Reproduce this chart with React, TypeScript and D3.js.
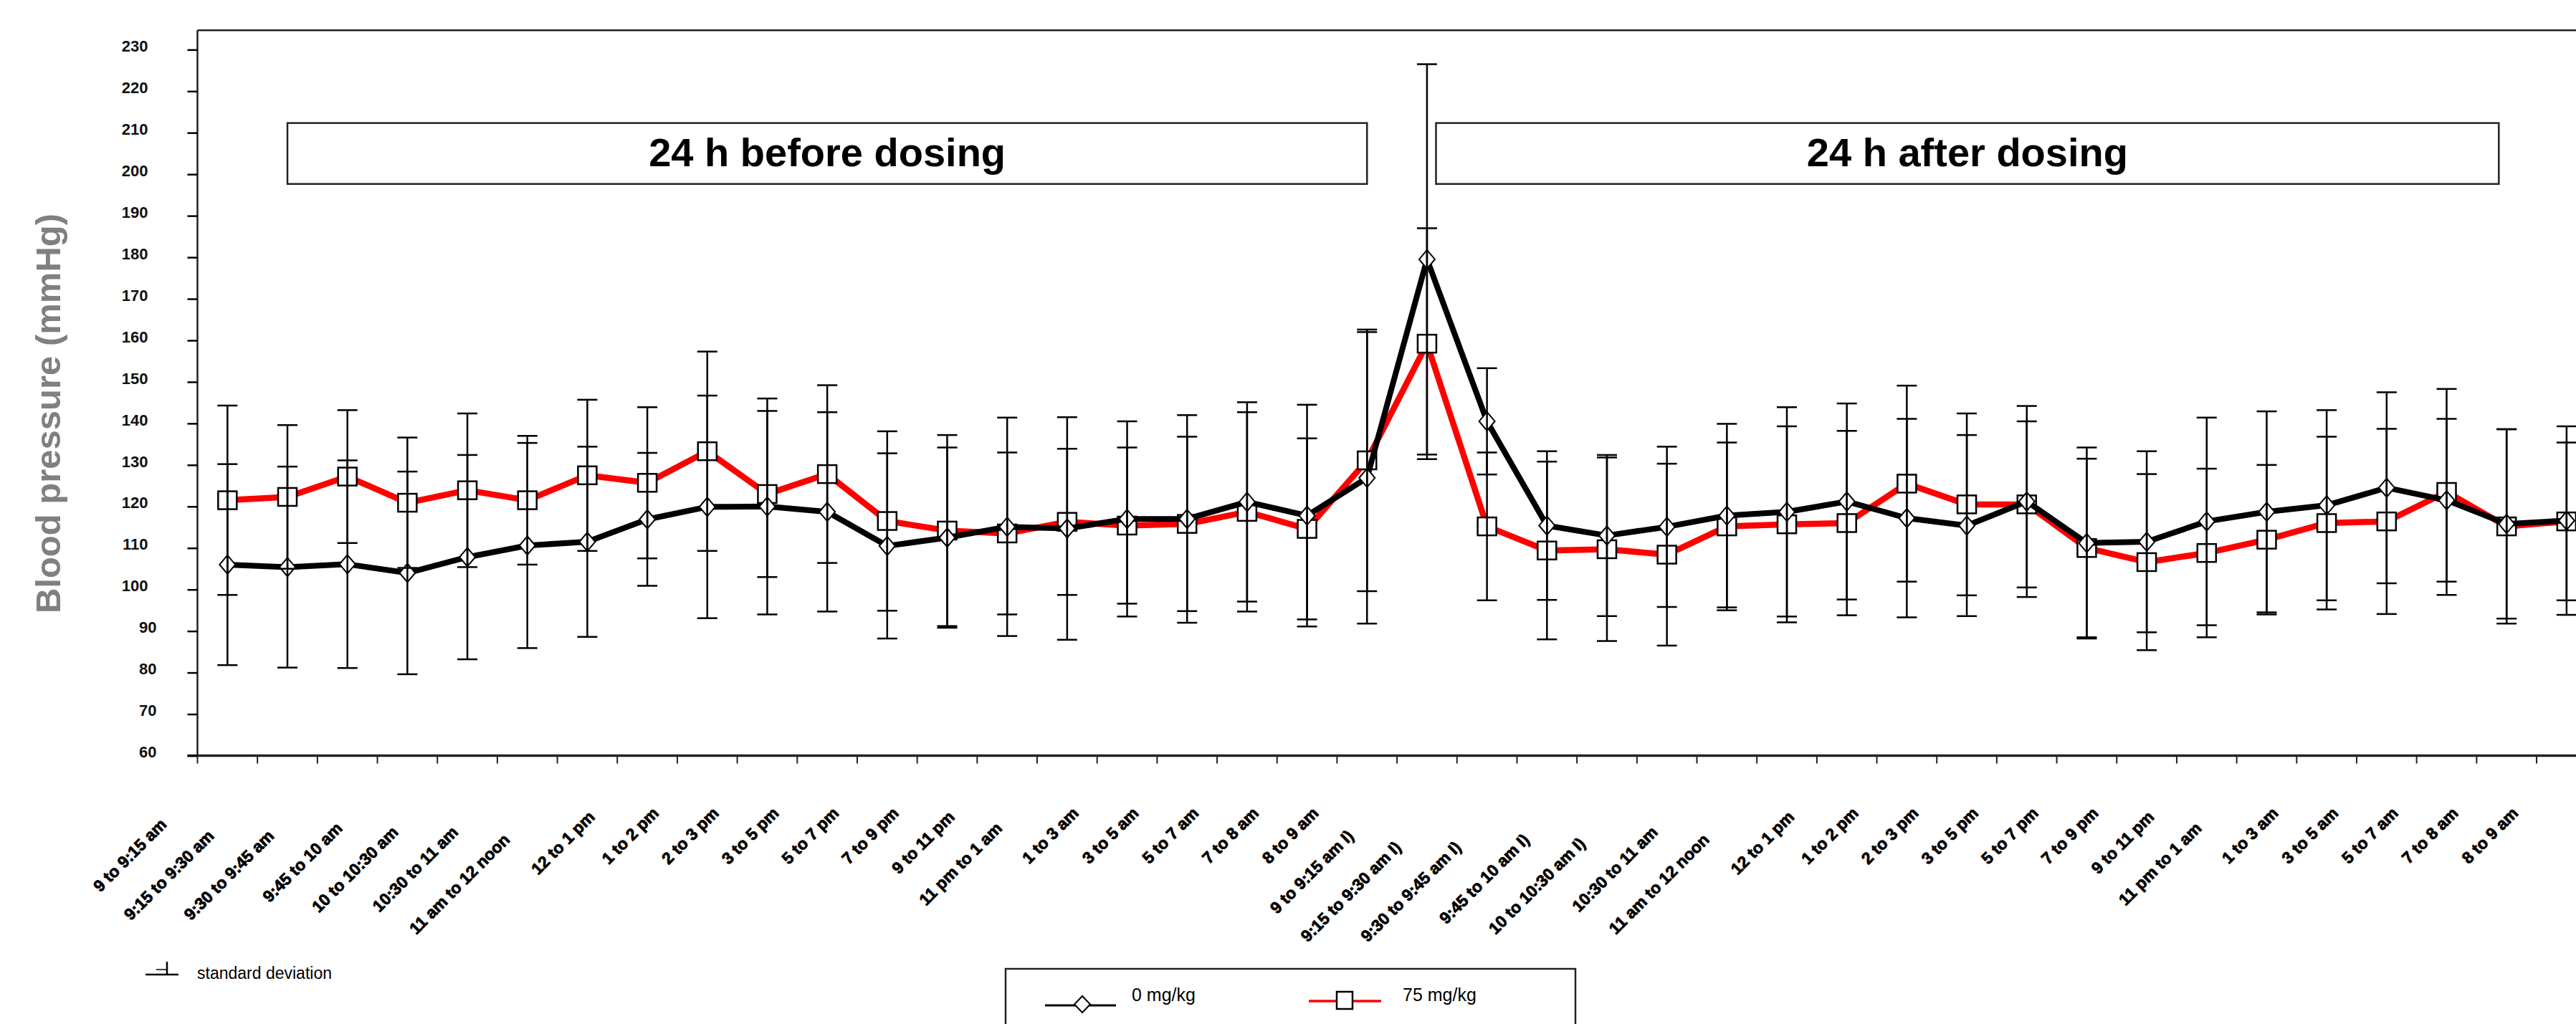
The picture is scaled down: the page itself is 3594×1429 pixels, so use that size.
import React, { useEffect, useRef } from 'react';
import * as d3 from 'd3';

const WIDTH = 3594;
const HEIGHT = 1429;

// plot frame: the right edge runs past the picture, as in the original
const PLOT = { left: 275.5, top: 42.3, axisY: 1054.5, band: 83.68 };

const categories = [
  '9 to 9:15 am', '9:15 to 9:30 am', '9:30 to 9:45 am', '9:45 to 10 am', '10 to 10:30 am',
  '10:30 to 11 am', '11 am to 12 noon', '12 to 1 pm', '1 to 2 pm', '2 to 3 pm',
  '3 to 5 pm', '5 to 7 pm', '7 to 9 pm', '9 to 11 pm', '11 pm to 1 am',
  '1 to 3 am', '3 to 5 am', '5 to 7 am', '7 to 8 am', '8 to 9 am',
  '9 to 9:15 am I)', '9:15 to 9:30 am I)', '9:30 to 9:45 am I)', '9:45 to 10 am I)', '10 to 10:30 am I)',
  '10:30 to 11 am', '11 am to 12 noon', '12 to 1 pm', '1 to 2 pm', '2 to 3 pm',
  '3 to 5 pm', '5 to 7 pm', '7 to 9 pm', '9 to 11 pm', '11 pm to 1 am',
  '1 to 3 am', '3 to 5 am', '5 to 7 am', '7 to 8 am', '8 to 9 am',
];

// 0 mg/kg (black, diamonds)
const mean0 = [
  106, 105.4, 106.1, 104, 107.8, 110.6, 111.5, 116.9, 119.9, 120,
  118.7, 110.5, 112.5, 115.1, 114.7, 117, 117, 121.1, 117.8, 126.9,
  179.5, 140.5, 115.4, 113, 115.1, 117.8, 118.7, 121.2, 117.2, 115.4,
  121.2, 111.2, 111.5, 116.4, 118.7, 120.3, 124.5, 121.5, 115.8, 116.6,
];
const sd0 = [
  24.2, 24.2, 25, 24.4, 24.6, 24.7, 22.9, 16, 26.8, 26,
  24, 22.3, 21.7, 26.3, 26.8, 23.5, 25, 24, 26.7, 35.1,
  47, 12.8, 17.9, 19.4, 19.3, 22.1, 25.2, 23.6, 23.9, 21.8,
  23, 23, 21.8, 25, 24.2, 22.9, 23, 19.6, 22.8, 22.7,
];

// 75 mg/kg (red, squares)
const mean75 = [
  121.5, 122.3, 127.2, 120.9, 123.9, 121.5, 127.5, 125.7, 133.3, 123,
  127.8, 116.5, 114.2, 113.5, 116.3, 115.4, 115.8, 118.7, 114.6, 131.1,
  159.2, 115.2, 109.4, 109.7, 108.4, 115.2, 115.7, 116, 125.5, 120.5,
  120.5, 110, 106.6, 108.8, 112, 116, 116.4, 123.5, 115.2, 116.4,
];
const sd75 = [
  22.8, 17.3, 16, 15.7, 18.5, 15.5, 18.2, 18.2, 24, 20,
  21.4, 21.6, 23, 19.5, 17.6, 18.8, 21, 24, 21.8, 31.5,
  27.8, 17.8, 21.4, 22.1, 21.9, 20.2, 23.6, 22.2, 23.6, 21.9,
  20, 21.5, 21.2, 20.3, 18, 20.8, 22.3, 24.8, 23.4, 19,
];

const yTickValues = [60, 70, 80, 90, 100, 110, 120, 130, 140, 150, 160, 170, 180, 190, 200, 210, 220, 230];

// period boxes, spans given in category positions
const periods = [
  { label: '24 h before dosing', from: 1, to: 19 },
  { label: '24 h after dosing', from: 20.15, to: 37.87 },
];

const FONT = '"Liberation Sans", Arial, sans-serif';

const Chart = () => {
  const yAxisRef = useRef<SVGGElement>(null);

  const idx = d3.range(categories.length);
  const xScale = d3
    .scaleBand<number>()
    .domain(idx)
    .range([PLOT.left, PLOT.left + categories.length * PLOT.band])
    .padding(0);
  const cx = (i: number) => (xScale(i) as number) + xScale.bandwidth() / 2;
  const yScale = d3.scaleLinear().domain([60, 230]).range([PLOT.axisY, 69.3]);

  useEffect(() => {
    const g = d3.select(yAxisRef.current);
    g.selectAll('*').remove();
    g.call(
      d3.axisLeft(yScale).tickValues(yTickValues).tickSize(14).tickSizeOuter(0).tickPadding(55).tickFormat(d3.format('d'))
    );
    g.select('.domain').remove();
    g.selectAll('.tick line').attr('stroke', '#000').attr('stroke-width', 2.5);
    g.selectAll<SVGTextElement, number>('.tick text')
      .attr('font-family', FONT)
      .attr('font-size', 22)
      .attr('font-weight', 'bold')
      .attr('fill', '#111')
      .attr('dy', '0.1em')
      .attr('x', (d) => (d < 100 ? -57 : -69));
  }, []);

  const line = d3
    .line<number>()
    .x((_, i) => cx(i))
    .y((d) => yScale(d));

  const errorBars = (means: number[], sds: number[], key: string) =>
    means.map((m, i) => {
      const x = cx(i);
      const yTop = yScale(m + sds[i]);
      const yBot = yScale(m - sds[i]);
      return (
        <g key={`${key}-${i}`} stroke="#000" strokeWidth={2.5}>
          <line x1={x} x2={x} y1={yTop} y2={yBot} />
          <line x1={x - 14} x2={x + 14} y1={yTop} y2={yTop} />
          <line x1={x - 14} x2={x + 14} y1={yBot} y2={yBot} />
        </g>
      );
    });

  const xTicks = d3.range(categories.length);

  return (
    <svg width={WIDTH} height={HEIGHT} style={{ display: 'block', background: '#fff' }}>
      <rect width={WIDTH} height={HEIGHT} fill="#fff" />

      {/* frame */}
      <line x1={PLOT.left} x2={WIDTH + 40} y1={PLOT.top} y2={PLOT.top} stroke="#222" strokeWidth={2.5} />
      <line x1={PLOT.left} x2={PLOT.left} y1={PLOT.top} y2={PLOT.axisY} stroke="#222" strokeWidth={2.5} />
      <line x1={PLOT.left - 14} x2={WIDTH + 40} y1={PLOT.axisY} y2={PLOT.axisY} stroke="#222" strokeWidth={3.5} />
      {xTicks.map((i) => (
        <line
          key={`xt-${i}`}
          x1={xScale(i) as number}
          x2={xScale(i) as number}
          y1={PLOT.axisY}
          y2={PLOT.axisY + 11}
          stroke="#222"
          strokeWidth={2}
        />
      ))}

      <g ref={yAxisRef} transform={`translate(${PLOT.left},0)`} />

      {/* y title */}
      <text
        transform={`translate(84, 577) rotate(-90)`}
        textAnchor="middle"
        fontFamily={FONT}
        fontWeight="bold"
        fontSize={49}
        fill="#808080"
      >
        Blood pressure (mmHg)
      </text>

      {/* period boxes */}
      {periods.map((p) => {
        const x1 = cx(0) + p.from * xScale.bandwidth();
        const x2 = cx(0) + p.to * xScale.bandwidth();
        return (
          <g key={p.label}>
            <rect x={x1} y={171.7} width={x2 - x1} height={85} fill="#fff" stroke="#222" strokeWidth={2.5} />
            <text
              x={(x1 + x2) / 2}
              y={232}
              textAnchor="middle"
              fontFamily={FONT}
              fontWeight="bold"
              fontSize={56}
              fill="#000"
            >
              {p.label}
            </text>
          </g>
        );
      })}

      {/* series */}
      <path d={line(mean75) || ''} fill="none" stroke="#ff0000" strokeWidth={8.5} strokeLinejoin="round" />
      {mean75.map((m, i) => (
        <rect
          key={`sq-${i}`}
          x={cx(i) - 13}
          y={yScale(m) - 12.5}
          width={26}
          height={25}
          fill="#fff"
          stroke="#000"
          strokeWidth={2.5}
        />
      ))}
      <path d={line(mean0) || ''} fill="none" stroke="#000" strokeWidth={8} strokeLinejoin="round" />
      {mean0.map((m, i) => {
        const x = cx(i);
        const y = yScale(m);
        return (
          <path
            key={`dm-${i}`}
            d={`M${x},${y - 13}L${x + 11},${y}L${x},${y + 13}L${x - 11},${y}Z`}
            fill="#fff"
            stroke="#000"
            strokeWidth={2}
          />
        );
      })}
      {errorBars(mean0, sd0, 'e0')}
      {errorBars(mean75, sd75, 'e75')}

      {/* category labels */}
      {categories.map((c, i) => {
        const n = c.length;
        const ax = cx(i) - (14 + 5.8 * n);
        const ay = PLOT.axisY + 34 + 5.3 * n;
        return (
          <text
            key={`xl-${i}`}
            transform={`translate(${ax},${ay}) rotate(-45)`}
            textAnchor="end"
            fontFamily={FONT}
            fontWeight="bold"
            fontSize={23}
            fill="#000"
            stroke="#000"
            strokeWidth={0.8}
          >
            {c}
          </text>
        );
      })}

      {/* standard deviation key */}
      <g stroke="#000" strokeWidth={2.5}>
        <line x1={203} x2={249} y1={1360} y2={1360} />
        <line x1={233} x2={233} y1={1342} y2={1360} />
        <line x1={218} x2={233} y1={1353} y2={1353} strokeWidth={1.5} />
      </g>
      <text x={275} y={1366} fontFamily={FONT} fontSize={23} fill="#000">
        standard deviation
      </text>

      {/* legend */}
      <rect x={1403} y={1352} width={795} height={200} fill="#fff" stroke="#222" strokeWidth={2.5} />
      <line x1={1458} x2={1557} y1={1403} y2={1403} stroke="#000" strokeWidth={3} />
      <path d="M1510,1390L1521,1401.5L1510,1413L1499,1401.5Z" fill="#fff" stroke="#000" strokeWidth={2} />
      <text x={1579} y={1397} fontFamily={FONT} fontSize={25} fill="#000">
        0 mg/kg
      </text>
      <line x1={1826} x2={1927} y1={1397} y2={1397} stroke="#ff0000" strokeWidth={3.5} />
      <rect x={1865} y={1384} width={22} height={24} fill="#fff" stroke="#000" strokeWidth={2.5} />
      <text x={1957} y={1397} fontFamily={FONT} fontSize={25} fill="#000">
        75 mg/kg
      </text>
    </svg>
  );
};

export default function App() {
  return (
    <div>
      <style>{'html,body{margin:0;padding:0;overflow:hidden;background:#fff}'}</style>
      <Chart />
    </div>
  );
}
